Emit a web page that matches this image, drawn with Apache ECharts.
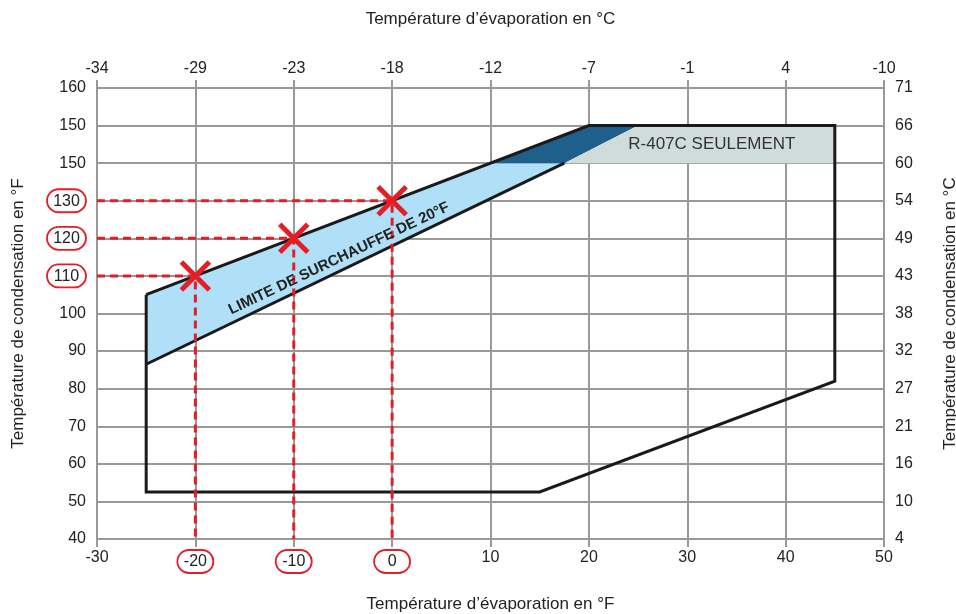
<!DOCTYPE html>
<html><head><meta charset="utf-8">
<script src="https://cdn.jsdelivr.net/npm/echarts@6/dist/echarts.min.js"></script>
<style>html,body{margin:0;padding:0;background:#fff}#c{width:956px;height:614px}</style>
</head><body><div id="c"></div>
<script>
const xTicks = [-30, -20, -10, 0, 10, 20, 30, 40, 50];
const topLabels = ['-34', '-29', '-23', '-18', '-12', '-7', '-1', '4', '-10'];
const yTicks = [40, 50, 60, 70, 80, 90, 100, 110, 120, 130, 140, 150, 160];
const leftLabels = ['40', '50', '60', '70', '80', '90', '100', '110', '120', '130', '150', '150', '160'];
const rightLabels = ['4', '10', '16', '21', '27', '32', '38', '43', '49', '54', '60', '66', '71'];
const circledX = [-20, -10, 0];
const circledY = [110, 120, 130];

const envelope = [[-25, 105], [20, 150], [45, 150], [45, 82], [15, 52.5], [-25, 52.5], [-25, 105]];
const bandLight = [[-25, 105], [10, 140], [17.5, 140], [-25, 86.5]];
const bandDark = [[10, 140], [20, 150], [25, 150], [17.5, 140]];
const greyZone = [[17.5, 140], [25, 150], [45, 150], [45, 140]];
const bandLower = [[-25, 86.5], [17.5, 140]];
const points = [[-20, 110], [-10, 120], [0, 130]];
const bandText = { x: -5.4, y: 114.6, text: 'LIMITE DE SURCHAUFFE DE 20°F' };
const zoneText = { x: 32.5, y: 145, text: 'R-407C SEULEMENT' };

const FONT = '"Liberation Sans", Arial, sans-serif';
const RED = '#e41e26';
const GRID = '#999999';
const TXT = '#222';

function polySeries(pts, fill, z) {
  return {
    type: 'custom', z: z, silent: true,
    data: [[pts[0][0], pts[0][1]]],
    renderItem: (p, api) => ({
      type: 'polygon',
      shape: { points: pts.map(q => api.coord(q)) },
      style: { fill: fill, stroke: null }
    })
  };
}
function lineSeries(pts, color, width, z) {
  return {
    type: 'custom', z: z, silent: true,
    data: [[pts[0][0], pts[0][1]]],
    renderItem: (p, api) => ({
      type: 'polyline',
      shape: { points: pts.map(q => api.coord(q)) },
      style: { stroke: color, lineWidth: width, fill: null, lineJoin: 'miter' }
    })
  };
}
const circStyle = { borderColor: RED, borderWidth: 1.8, borderRadius: 13, padding: [4, 6, 3, 6], color: TXT, fontSize: 16, fontFamily: FONT, align: 'center' };
const richX = { c: Object.assign({}, circStyle, { width: 24 }) };
const richY = { c: Object.assign({}, circStyle, { width: 27 }) };

const dashed = points.map(p => ({
  type: 'line', z: 6, silent: true, symbol: 'none',
  data: [[-30, p[1]], [p[0], p[1]], [p[0], 40]],
  lineStyle: { color: RED, width: 3, type: [8, 5] }
}));

const nameStyle = { fontFamily: FONT, fontSize: 17, color: TXT };
const labelBase = { margin: 11, color: TXT, fontFamily: FONT, fontSize: 16 };
const axisLine = { show: true, lineStyle: { color: GRID, width: 2 } };
const axisTick = { show: true, length: 8, lineStyle: { color: GRID, width: 2 } };

const chart = echarts.init(document.getElementById('c'));
chart.setOption({
  animation: false,
  backgroundColor: '#fff',
  grid: { left: 97, right: 72, top: 88, bottom: 75, outerBoundsMode: 'none', containLabel: false },
  xAxis: [
    {
      type: 'value', min: -30, max: 50, interval: 10, position: 'bottom',
      name: 'Température d’évaporation en °F', nameLocation: 'middle', nameGap: 57,
      nameTextStyle: nameStyle, axisLine: axisLine, axisTick: axisTick,
      axisLabel: Object.assign({}, labelBase, {
        formatter: v => circledX.includes(v) ? '{c|' + v + '}' : String(v), rich: richX
      }),
      splitLine: { show: true, lineStyle: { color: GRID, width: 2 } }
    },
    {
      type: 'value', min: -30, max: 50, interval: 10, position: 'top',
      name: 'Température d’évaporation en °C', nameLocation: 'middle', nameGap: 60,
      nameTextStyle: nameStyle, axisLine: axisLine, axisTick: axisTick,
      axisLabel: Object.assign({}, labelBase, {
        formatter: v => topLabels[xTicks.indexOf(v)] ?? ''
      }),
      splitLine: { show: false }
    }
  ],
  yAxis: [
    {
      type: 'value', min: 40, max: 160, interval: 10, position: 'left',
      name: 'Température de condensation en °F', nameLocation: 'middle', nameGap: 70, nameRotate: 90,
      nameTextStyle: nameStyle, axisLine: axisLine, axisTick: axisTick,
      axisLabel: Object.assign({}, labelBase, {
        formatter: v => { const t = leftLabels[yTicks.indexOf(v)] ?? ''; return circledY.includes(v) ? '{c|' + t + '}' : t; },
        rich: richY
      }),
      splitLine: { show: true, lineStyle: { color: GRID, width: 2 } }
    },
    {
      type: 'value', min: 40, max: 160, interval: 10, position: 'right',
      name: 'Température de condensation en °C', nameLocation: 'middle', nameGap: 58, nameRotate: 90,
      nameTextStyle: nameStyle, axisLine: axisLine, axisTick: axisTick,
      axisLabel: Object.assign({}, labelBase, {
        formatter: v => rightLabels[yTicks.indexOf(v)] ?? ''
      }),
      splitLine: { show: false }
    }
  ],
  series: [
    polySeries(bandLight, '#b0e0f7', 2),
    polySeries(bandDark, '#1f5f8b', 2),
    polySeries(greyZone, '#d0dcdc', 2),
    lineSeries(bandLower, '#1a1a1a', 3, 3),
    lineSeries(envelope, '#1a1a1a', 3, 3),
    ...dashed,
    {
      type: 'custom', z: 8, silent: true,
      data: points,
      renderItem: (p, api) => {
        const c = api.coord([api.value(0), api.value(1)]);
        const s = 14;
        return {
          type: 'group', children: [
            { type: 'line', shape: { x1: c[0] - s, y1: c[1] - s, x2: c[0] + s, y2: c[1] + s }, style: { stroke: RED, lineWidth: 5 } },
            { type: 'line', shape: { x1: c[0] - s, y1: c[1] + s, x2: c[0] + s, y2: c[1] - s }, style: { stroke: RED, lineWidth: 5 } }
          ]
        };
      }
    },
    {
      type: 'custom', z: 9, silent: true,
      data: [[bandText.x, bandText.y]],
      renderItem: (p, api) => {
        const c = api.coord([api.value(0), api.value(1)]);
        return {
          type: 'text', x: c[0], y: c[1], rotation: 25.5 * Math.PI / 180,
          style: { text: bandText.text, fill: TXT, font: 'bold 15px ' + FONT, align: 'center', verticalAlign: 'middle' }
        };
      }
    },
    {
      type: 'custom', z: 9, silent: true,
      data: [[zoneText.x, zoneText.y]],
      renderItem: (p, api) => {
        const c = api.coord([api.value(0), api.value(1)]);
        return {
          type: 'text', x: c[0], y: c[1],
          style: { text: zoneText.text, fill: '#333', font: '17px ' + FONT, align: 'center', verticalAlign: 'middle' }
        };
      }
    }
  ]
});
</script>
</body></html>
